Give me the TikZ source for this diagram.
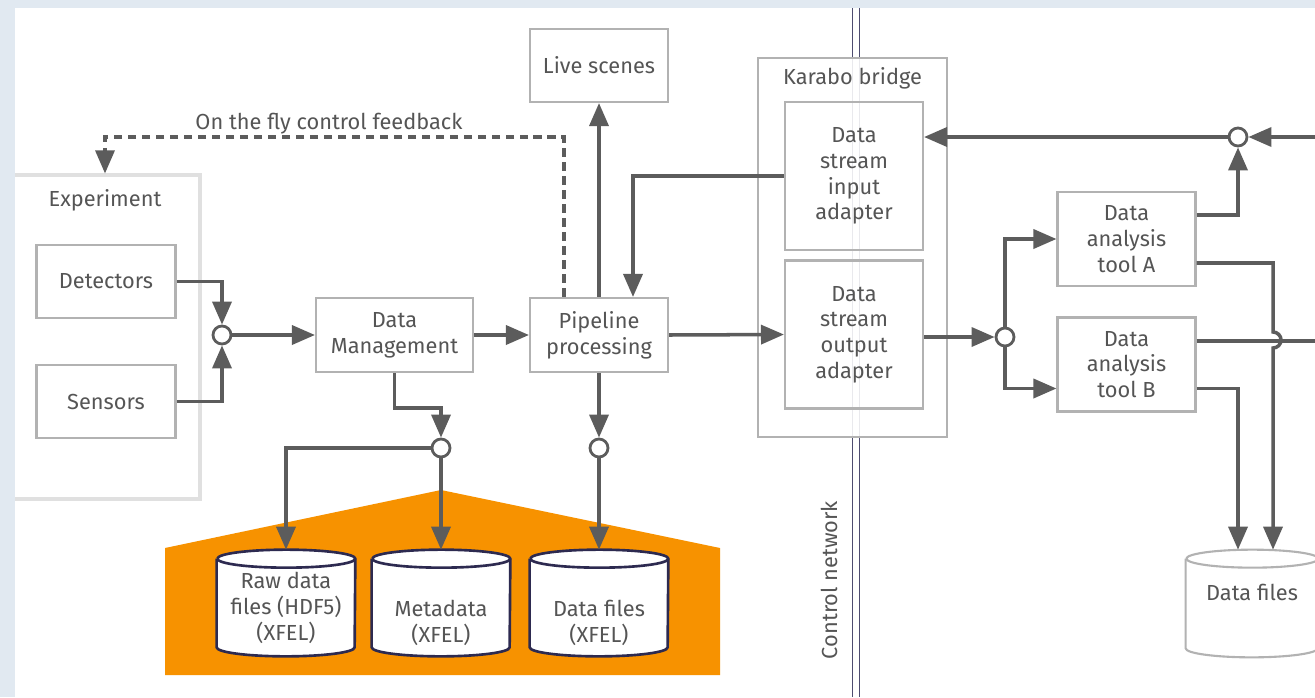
\documentclass[tikz,border=0pt]{standalone}
\usepackage{fontspec}
\setmainfont{Fira Sans}
\usepackage{tikz}
\usepackage{xcolor}
\usetikzlibrary{arrows.meta}

\definecolor{bgblue}{RGB}{225,233,241}
\definecolor{linegray}{RGB}{92,92,92}
\definecolor{boxgray}{RGB}{178,178,178}
\definecolor{expgray}{RGB}{224,224,224}
\definecolor{txtgray}{RGB}{85,85,85}
\definecolor{xfelorange}{RGB}{247,146,0}
\definecolor{navy}{RGB}{45,42,80}
\definecolor{netblue}{RGB}{78,76,112}

\tikzset{
    every node/.style={font=\fontsize{12.4}{14.6}\selectfont, text=txtgray},
    blk/.style={draw=boxgray, line width=1.2pt, fill=white, align=center, inner sep=0pt},
    jn/.style={circle, draw=linegray, fill=white, line width=1.6pt, minimum size=0.36cm, inner sep=0pt},
    ln/.style={draw=linegray, line width=2pt},
    arr/.style={ln, -{Triangle[length=0.46cm, width=0.38cm]}},
    feed/.style={ln, line width=1.8pt, dash pattern=on 0.17cm off 0.11cm},
    drumbox/.style={minimum width=2.76cm, minimum height=2.12cm, inner sep=0pt}
}

% cylinder round a node: node, half width, style
\newcommand{\drum}[3]{%
    \draw[#3] ([yshift=-0.18cm]#1.north west) -- ([yshift=0.18cm]#1.south west)
        arc[start angle=180, end angle=360, x radius=#2, y radius=0.18cm]
        -- ([yshift=-0.18cm]#1.north east)
        arc[start angle=0, end angle=180, x radius=#2, y radius=0.18cm];
    \draw[#3, fill=none] ([yshift=-0.18cm]#1.north east)
        arc[start angle=0, end angle=-180, x radius=#2, y radius=0.18cm];
}

\begin{document}
\begin{tikzpicture}[x=0.02cm, y=-0.02cm]
            \useasboundingbox (0,0) rectangle (1315,697);
            \fill[bgblue] (0,0) rectangle (1315,697);
            \fill[white] (15,8) rectangle (1315,697);

            % storage at XFEL
            \fill[xfelorange] (165,548) -- (441,490) -- (720,548) -- (720,675) -- (165,675) -- cycle;

            % control network
            \draw[netblue, line width=0.8pt, double=white, double distance=0.12cm] (856,8) -- (856,697);
            \node[rotate=90] (ctrl) at (829,580) {Control network};

            \node[blk, draw=expgray, line width=1.8pt, minimum width=3.8cm, minimum height=6.48cm] (exp) at (105,337) {};
            \node (expt) at (105,200) {Experiment};
            \node[blk, minimum width=2.78cm, minimum height=1.46cm] (det) at (106,281.5) {Detectors};
            \node[blk, minimum width=2.78cm, minimum height=1.46cm] (sen) at (106,401.5) {Sensors};
            \node[jn] (j1) at (222,335) {};

            \node[blk, minimum width=3.14cm, minimum height=1.48cm] (dm) at (394.5,335) {Data\\Management};
            \node[blk, minimum width=2.76cm, minimum height=1.48cm] (pipe) at (599,335) {Pipeline\\processing};
            \node[blk, minimum width=2.76cm, minimum height=1.46cm] (live) at (599,65.5) {Live scenes};
            \node[jn] (j4) at (441,448) {};
            \node[jn] (j5) at (599,448) {};

            \node[blk, fill opacity=0.88, text opacity=1, minimum width=3.78cm, minimum height=7.58cm] (kb) at (852.5,247.5) {};
            \node (kbt) at (852.5,78) {Karabo bridge};
            \node[blk, fill=none, minimum width=2.76cm, minimum height=2.96cm] (inad) at (854,176) {Data\\stream\\input\\adapter};
            \node[blk, fill=none, minimum width=2.76cm, minimum height=2.96cm] (outad) at (854,334.5) {Data\\stream\\output\\adapter};

            \node[jn] (j2) at (1005,337) {};
            \node[jn] (j3) at (1238,137) {};
            \node[blk, minimum width=2.76cm, minimum height=1.88cm] (toolA) at (1126.5,239) {Data\\analysis\\tool A};
            \node[blk, minimum width=2.76cm, minimum height=1.88cm] (toolB) at (1126.5,364.5) {Data\\analysis\\tool B};

            \foreach \nm/\cx/\dy/\txt in {raw/286/-0.1/{Raw data\\files (HDF5)\\(XFEL)},
                                          meta/441/-0.4/{Metadata\\(XFEL)},
                                          dfx/599/-0.4/{Data files\\(XFEL)}}
            {
                \node[drumbox] (\nm) at (\cx,603) {};
                \drum{\nm}{1.38cm}{draw=navy, line width=1.5pt, fill=white}
                \node[align=center] (t\nm) at ([yshift=\dy cm]\nm) {\txt};
            }
            \node[drumbox, minimum width=2.64cm, minimum height=2.14cm] (dfr) at (1252,603.5) {};
            \drum{dfr}{1.32cm}{draw=boxgray, line width=1.2pt, fill=white}
            \node (tdfr) at ([yshift=0.23cm]dfr) {Data files};

            \coordinate (fb) at (564,137);
            \coordinate (exA) at (1315,137);
            \coordinate (exB) at (1315,341);
            \coordinate (hop) at (1273,332);

            \node (fbl) at (329,124) {On the fly control feedback};
            \draw[feed, -{Triangle[length=0.46cm, width=0.38cm]}] (pipe.north -| fb) -- (fb) -| (exp.north);

            \draw[arr] (det.east) -| (j1.north);
            \draw[arr] (sen.east) -| (j1.south);
            \draw[arr] (j1.east) -- (dm.west);
            \draw[arr] (dm.east) -- (pipe.west);
            \draw[arr] (pipe.north) -- (live.south);
            \draw[arr] (pipe.east) -- (outad.west);
            \draw[arr] (inad.west) -| ([xshift=0.68cm]pipe.north);

            \draw[arr] (dm.south) -- ++(0,35) -| (j4.north);
            \draw[arr] (j4.west) -| (raw.north);
            \draw[arr] (j4.south) -- (meta.north);
            \draw[arr] (pipe.south) -- (j5.north);
            \draw[arr] (j5.south) -- (dfx.north);

            \draw[arr] (outad.east |- j2.west) -- (j2.west);
            \draw[arr] (j2.north) |- (toolA.west);
            \draw[arr] (j2.south) |- ([yshift=-0.48cm]toolB.west);
            \draw[arr] ([yshift=0.48cm]toolA.east) -| (j3.south);
            \draw[arr] (exA) -- (j3.east);
            \draw[arr] (j3.west) -- (j3.west -| inad.east);
            \draw[ln] (toolB.east |- exB) -- (exB);
            \draw[arr] ([yshift=-0.48cm]toolA.east) -| (hop) arc[start angle=90, end angle=-90, radius=0.16cm] -- (dfr.north -| hop);
            \draw[arr] ([yshift=-0.48cm]toolB.east) -| (dfr.north -| j3);

            \fill[bgblue] (0,0) rectangle (15,697);
\end{tikzpicture}
\end{document}
